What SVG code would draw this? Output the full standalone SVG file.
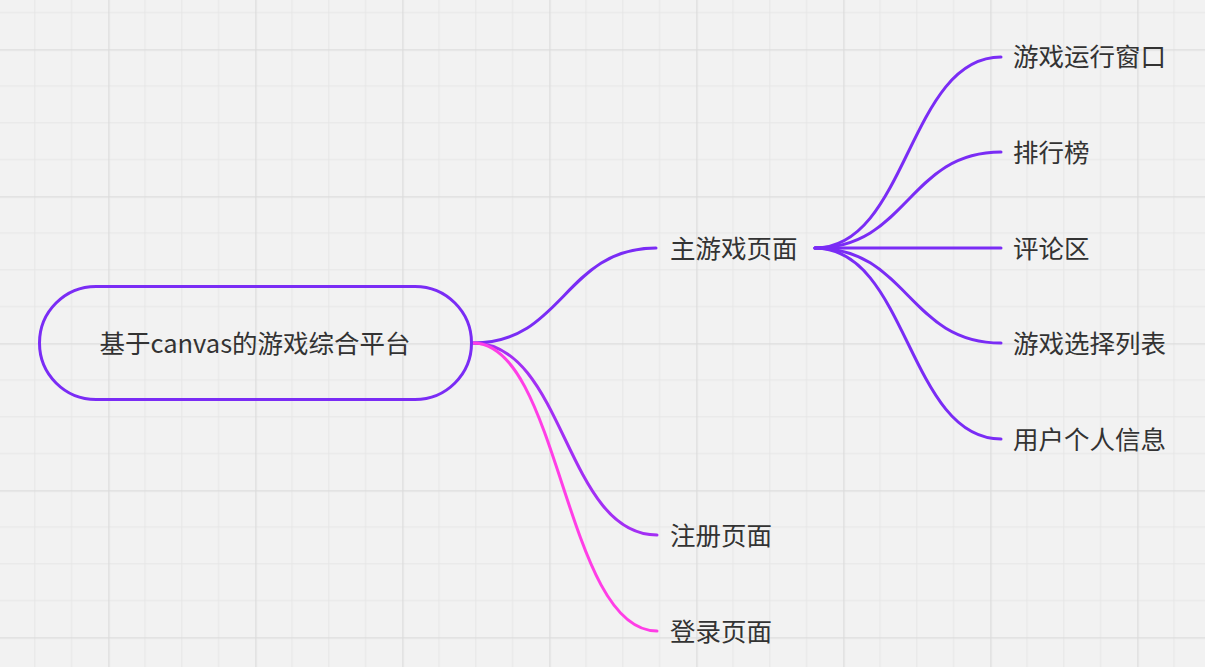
<svg xmlns="http://www.w3.org/2000/svg" width="1205" height="667" viewBox="0 0 1205 667">
<defs>
<pattern id="grid" x="-38.7" y="-97.7" width="147" height="147" patternUnits="userSpaceOnUse">
<path d="M36.75 0V147M73.5 0V147M110.25 0V147M0 36.75H147M0 73.5H147M0 110.25H147" stroke="#e6e6e6" stroke-width="1" fill="none"/>
<path d="M0.5 0V147M0 0.5H147" stroke="#dcdcdc" stroke-width="1.5" fill="none"/>
</pattern>
<style>
.t{font-family:"Noto Sans CJK SC","Noto Sans",sans-serif;font-size:25.5px;fill:#333;dominant-baseline:central}
.c{fill:none;stroke-width:3;stroke-linecap:round}
.p{stroke:#7a2cf5}
.v{stroke:#a32ff4}
.m{stroke:#ff3ee6}
</style>
</defs>
<rect width="1205" height="667" fill="#f2f2f2"/>
<rect width="1205" height="667" fill="url(#grid)"/>
<g id="connectors">
<path class="c p" d="M473 343 C564 343 564 248 656 248"/>
<path class="c v" d="M473 343 C565 343 565 535 657 535"/>
<path class="c m" d="M473 343 C560 343 565 631 657 631"/>
<path class="c p" d="M815 248 C908 248 908 57 1001 57"/>
<path class="c p" d="M815 248 C908 248 908 152 1001 152"/>
<path class="c p" d="M815 248 H1001"/>
<path class="c p" d="M815 248 C908 248 908 343 1001 343"/>
<path class="c p" d="M815 248 C908 248 908 439 1001 439"/>
</g>
<g id="root">
<rect x="39.5" y="286.5" width="432" height="113" rx="56.5" fill="none" stroke="#7a2cf5" stroke-width="3"/>
<text class="t" x="255" y="341" text-anchor="middle">基于canvas的游戏综合平台</text>
</g>
<g id="main"><text class="t" x="670" y="246">主游戏页面</text></g>
<g id="register"><text class="t" x="670" y="533">注册页面</text></g>
<g id="login"><text class="t" x="670" y="629">登录页面</text></g>
<g id="n1"><text class="t" x="1013" y="54">游戏运行窗口</text></g>
<g id="n2"><text class="t" x="1013" y="150">排行榜</text></g>
<g id="n3"><text class="t" x="1013" y="246">评论区</text></g>
<g id="n4"><text class="t" x="1013" y="341">游戏选择列表</text></g>
<g id="n5"><text class="t" x="1013" y="437">用户个人信息</text></g>
</svg>
